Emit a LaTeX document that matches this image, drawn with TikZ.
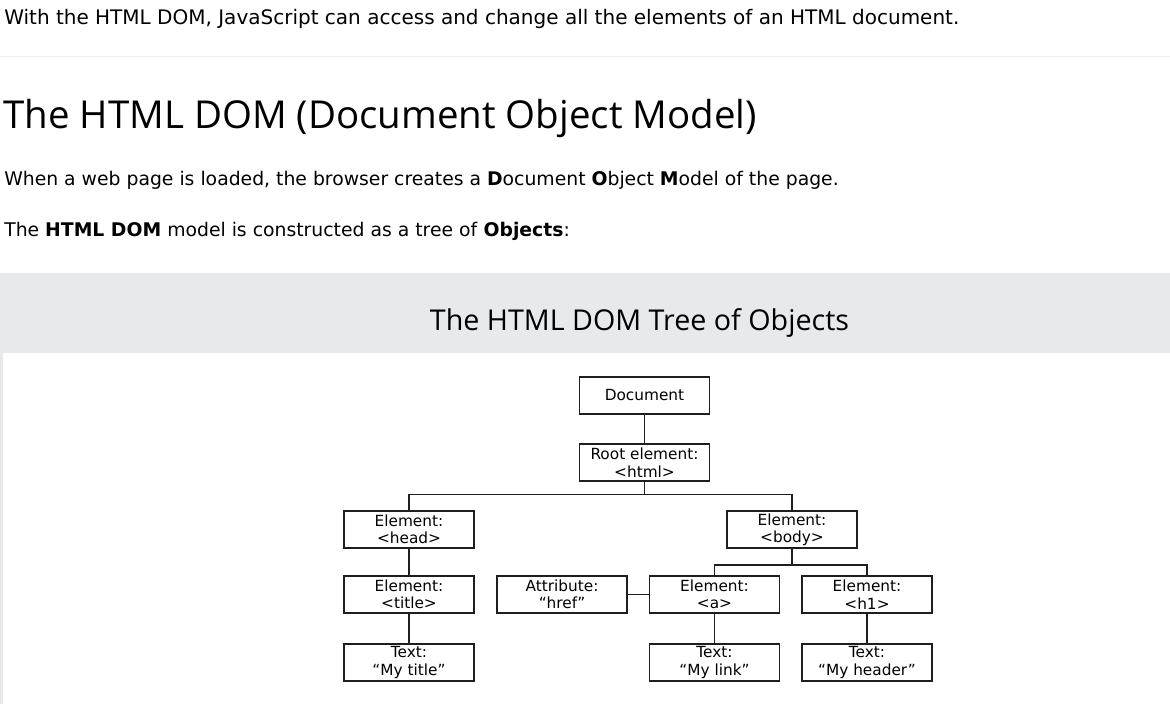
\documentclass[tikz,border=0pt]{standalone}
\usepackage{fontspec}
\setmainfont{DejaVu Sans}
\newfontfamily\headfont{Open Sans}
\definecolor{panelgrey}{RGB}{231,233,235}
\definecolor{rulegrey}{RGB}{238,238,238}
\definecolor{boxline}{RGB}{30,30,30}
\begin{document}
\begin{tikzpicture}[x=0.75pt,y=-0.75pt,
  box/.style={draw=boxline, line width=0.95pt, minimum width=97.5pt, minimum height=27.75pt,
    inner sep=0pt, align=center, font=\fontsize{11.5pt}{13.1pt}\selectfont},
  link/.style={draw=boxline, line width=0.95pt},
  para/.style={anchor=base west, inner sep=0pt, font=\fontsize{14.1pt}{17pt}\selectfont}]
\useasboundingbox (0,0) rectangle (1170,704);
\fill[white] (0,0) rectangle (1170,704);
\draw[rulegrey, line width=0.75pt] (0,56.5) -- (1170,56.5);
\fill[panelgrey] (0,273) rectangle (1170,704);
\fill[white] (3,353) rectangle (1170,704);

\node[para, font=\fontsize{15pt}{18pt}\selectfont] (l1) at (4,24) {With the HTML DOM, JavaScript can access and change all the elements of an HTML document.};
\node[anchor=base west, inner sep=0pt, font=\headfont\fontsize{28.85pt}{34pt}\selectfont] (h) at (3,128) {The HTML DOM (Document Object Model)};
\node[para] (l2) at (4,185) {When a web page is loaded, the browser creates a \textbf{D}ocument \textbf{O}bject \textbf{M}odel of the page.};
\node[para] (l3) at (4,236) {The \textbf{HTML DOM} model is constructed as a tree of \textbf{Objects}:};
\node[anchor=base, inner sep=0pt, font=\headfont\fontsize{21.5pt}{25pt}\selectfont] (sub) at (639.5,330) {The HTML DOM Tree of Objects};

\node[box] (doc) at (644.5,395.5) {Document};
\node[box] (root) at (644.5,462.5) {Root element:\\<html>};
\node[box] (head) at (409,529.5) {Element:\\<head>};
\node[box] (body) at (792,529.5) {Element:\\<body>};
\node[box] (title) at (409,594.5) {Element:\\<title>};
\node[box] (attr) at (562,594.5) {Attribute:\\“href”};
\node[box] (a) at (714.5,594.5) {Element:\\<a>};
\node[box] (h1) at (867,594.5) {Element:\\<h1>};
\node[box] (ttitle) at (409,662.5) {Text:\\“My title”};
\node[box] (tlink) at (714.5,662.5) {Text:\\“My link”};
\node[box] (theader) at (867,662.5) {Text:\\“My header”};

\coordinate (j1) at (644.5,494.5);
\coordinate (j2) at (792,565);
\draw[link] (doc) -- (root);
\draw[link] (root.south) -- (j1);
\draw[link] (head.north) |- (j1) -| (body.north);
\draw[link] (head) -- (title);
\draw[link] (title) -- (ttitle);
\draw[link] (body.south) -- (j2);
\draw[link] (a.north) |- (j2) -| (h1.north);
\draw[link] (attr) -- (a);
\draw[link] (a) -- (tlink);
\draw[link] (h1) -- (theader);
\end{tikzpicture}
\end{document}
